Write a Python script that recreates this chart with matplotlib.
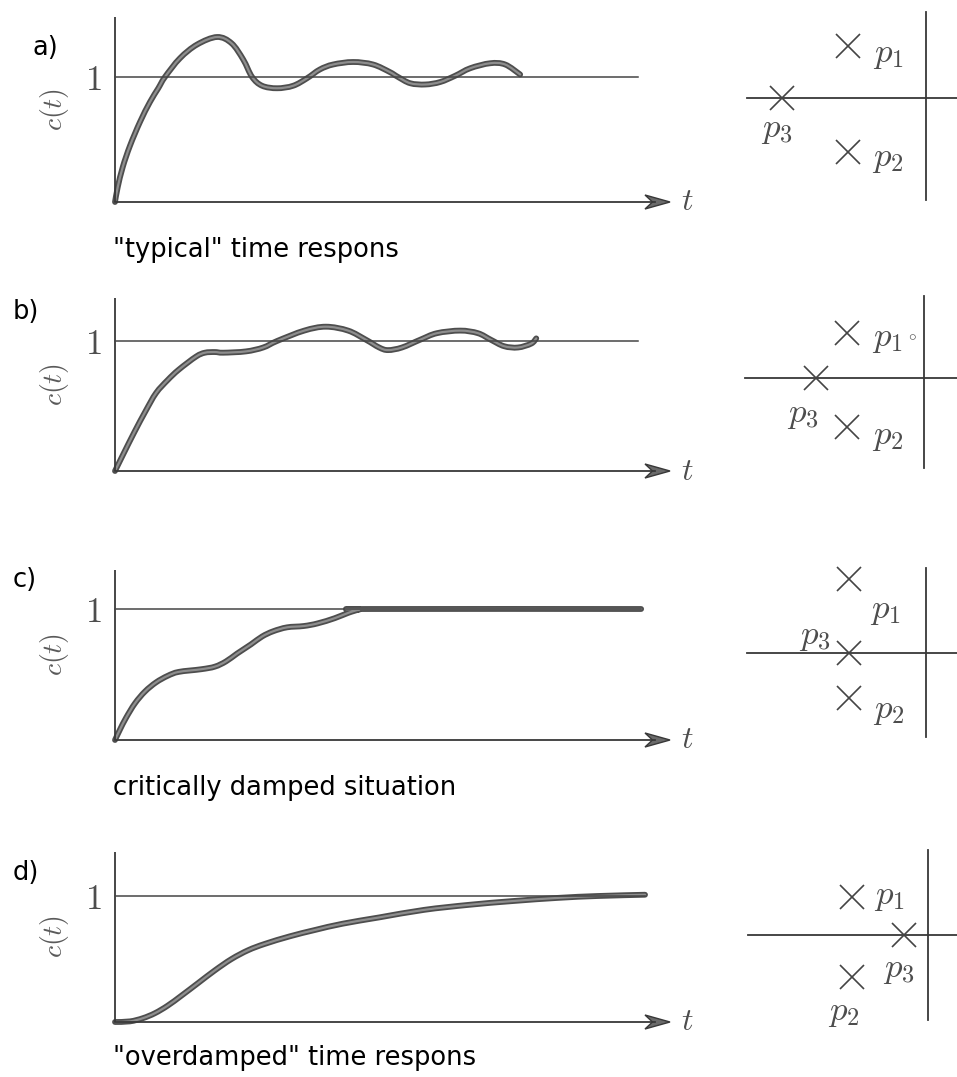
import matplotlib
matplotlib.use("Agg")
import matplotlib.pyplot as plt
import matplotlib.patheffects as pe
from matplotlib.patches import Polygon, PathPatch
from matplotlib.path import Path

plt.rcParams['mathtext.fontset'] = 'cm'
plt.rcParams['font.family'] = ['DejaVu Sans']

# ---------------- data ----------------
# time axis in arbitrary units (0 .. 10 = arrow tip), c(t) normalised (1 = final value)
t_a = [0, 0.05, 0.14, 0.27, 0.45, 0.63, 0.78, 0.90, 1.17, 1.48, 1.84, 2.10, 2.31, 2.47,
       2.65, 2.92, 3.21, 3.46, 3.69, 3.93, 4.29, 4.65, 4.95, 5.10, 5.32, 5.59, 5.86,
       6.13, 6.40, 6.76, 7.03, 7.30]
c_a = [0, 0.12, 0.28, 0.45, 0.64, 0.80, 0.91, 1.00, 1.15, 1.26, 1.32, 1.27, 1.14, 1.00,
       0.93, 0.91, 0.93, 0.99, 1.06, 1.10, 1.12, 1.10, 1.04, 1.00, 0.95, 0.94, 0.96,
       1.01, 1.07, 1.11, 1.10, 1.02]

t_b = [0, 0.15, 0.35, 0.55, 0.74, 0.95, 1.15, 1.46, 1.62, 1.80, 1.95, 2.36, 2.67, 2.92,
       3.41, 3.80, 4.20, 4.52, 4.76, 4.92, 5.17, 5.50, 5.80, 6.22, 6.54, 6.77, 7.01,
       7.26, 7.50, 7.59]
c_b = [0, 0.13, 0.30, 0.46, 0.60, 0.70, 0.78, 0.88, 0.91, 0.915, 0.91, 0.92, 0.95, 1.00,
       1.08, 1.11, 1.08, 1.01, 0.95, 0.93, 0.95, 1.01, 1.06, 1.08, 1.06, 1.01, 0.96,
       0.95, 0.98, 1.02]

t_c = [0, 0.09, 0.20, 0.36, 0.54, 0.74, 0.95, 1.15, 1.55, 1.80, 2.00, 2.20, 2.45, 2.65,
       2.85, 3.10, 3.40, 3.65, 3.96, 4.20, 4.40, 4.60, 9.48]
c_c = [0, 0.08, 0.17, 0.28, 0.37, 0.44, 0.49, 0.52, 0.54, 0.56, 0.60, 0.66, 0.73, 0.79,
       0.83, 0.86, 0.87, 0.89, 0.93, 0.97, 0.995, 1.00, 1.00]

t_d = [0, 0.27, 0.50, 0.72, 0.95, 1.20, 1.50, 1.80, 2.10, 2.40, 2.70, 3.15, 3.60, 4.10,
       4.76, 5.57, 6.38, 7.17, 7.98, 8.70, 9.55]
c_d = [0, 0.005, 0.03, 0.07, 0.13, 0.21, 0.31, 0.41, 0.50, 0.57, 0.62, 0.68, 0.73, 0.78,
       0.83, 0.89, 0.93, 0.96, 0.985, 1.00, 1.01]

level_end = [9.42, 9.42, 9.48, 9.55]          # where the "1" reference line stops
panel_labels = ['a)', 'b)', 'c)', 'd)']
captions = ['"typical" time respons', None, 'critically damped situation',
            '"overdamped" time respons']

# pole locations (real, imag) in s-plane units
pole_re_a = [-7.8, -7.8, -14.4]
pole_im_a = [5.2, -5.4, 0.0]
pole_re_b = [-7.7, -7.7, -10.8]
pole_im_b = [4.5, -4.9, 0.0]
pole_re_c = [-7.7, -7.7, -7.7]
pole_im_c = [7.4, -4.5, 0.0]
pole_re_d = [-7.6, -7.6, -2.4]
pole_im_d = [3.8, -4.2, 0.0]
pole_names = [r'$p_1$', r'$p_2$', r'$p_3$']

# ---------------- layout ----------------
W, H = 957, 1077
fig = plt.figure(figsize=(W / 100, H / 100), dpi=100)
fig.patch.set_facecolor('white')


def px_axes(x0, x1, ytop, ybot):
    ax = fig.add_axes([x0 / W, 1 - ybot / H, (x1 - x0) / W, (ybot - ytop) / H])
    ax.axis('off')
    return ax


def smooth_path(xs, ys):
    """Cubic Bezier path passing through every read point (Catmull-Rom handles)."""
    n = len(xs)
    pts = list(zip(xs, ys))
    verts = [pts[0]]
    codes = [Path.MOVETO]
    for i in range(n - 1):
        p0 = pts[i - 1] if i > 0 else pts[i]
        p1 = pts[i]
        p2 = pts[i + 1]
        p3 = pts[i + 2] if i + 2 < n else pts[i + 1]
        c1 = (p1[0] + (p2[0] - p0[0]) / 6, p1[1] + (p2[1] - p0[1]) / 6)
        c2 = (p2[0] - (p3[0] - p1[0]) / 6, p2[1] - (p3[1] - p1[1]) / 6)
        verts += [c1, c2, p2]
        codes += [Path.CURVE4] * 3
    return Path(verts, codes)


AX = '#383838'
TXT = '#4d4d4d'

# time-response panels: (ytop, y_of_one, ybot) in pixels
rows = [(17, 77, 202), (298, 341, 471), (570, 609, 740), (852, 896, 1022)]
curves = [(t_a, c_a), (t_b, c_b), (t_c, c_c), (t_d, c_d)]
label_pos = [(32, 48), (13, 312), (13, 580), (13, 873)]
caption_y = [250, None, 788, 1058]

X0, XTIP = 115, 670
for i, (ytop, y1, ybot) in enumerate(rows):
    ax = px_axes(X0, XTIP, ytop, ybot)
    ymax = (ybot - ytop) / (ybot - y1)
    ax.set_xlim(0, 10)
    ax.set_ylim(0, ymax)
    pxx = (XTIP - X0) / 10.0
    pxy = (ybot - y1)
    # y axis
    ax.plot([0, 0], [0, ymax], color=AX, lw=1.3, clip_on=False, solid_capstyle='butt')
    # x axis with stealth arrow head
    hl, hw = 25 / pxx, 7 / pxy
    ax.plot([0, 10 - hl * 0.6], [0, 0], color=AX, lw=1.3, clip_on=False)
    head = Polygon([[10, 0], [10 - hl, hw], [10 - hl * 0.7, 0], [10 - hl, -hw]],
                   closed=True, facecolor='#6a6a6a', edgecolor=AX, lw=1.0, clip_on=False)
    ax.add_patch(head)
    # reference line at 1
    ax.plot([0, level_end[i]], [1, 1], color='#454545', lw=1.1, clip_on=False)
    # response curve
    t, c = curves[i]
    patch = PathPatch(smooth_path(t, c), facecolor='none', edgecolor='#8e8e8e', lw=1.6,
                      capstyle='round', joinstyle='round', clip_on=False,
                      path_effects=[pe.Stroke(linewidth=4.2, foreground='#4e4e4e'),
                                    pe.Normal()])
    ax.add_patch(patch)
    # labels
    ax.text(-(X0 - 93) / pxx, 1 + (-3 / pxy), r'$1$', fontsize=25, ha='center',
            va='center', color=TXT)
    ax.text(-(X0 - 55) / pxx, ymax / 2, r'$c(t)$', fontsize=20, rotation=90,
            ha='center', va='center', color='#5a5a5a')
    ax.text(10 + 17 / pxx, 0, r'$t$', fontsize=23, ha='center', va='center', color=TXT)

    lx, ly = label_pos[i]
    fig.text(lx / W, 1 - ly / H, panel_labels[i], fontsize=18.5, ha='left', va='center',
             color='black')
    if captions[i]:
        fig.text(113 / W, 1 - caption_y[i] / H, captions[i], fontsize=18.5, ha='left',
                 va='center', color='black')

# pole-zero panels: origin (ox, oy), vertical line top/bottom, horizontal start
pole_rows = [
    dict(ox=926, oy=98, top=12, bot=200, hx=747, re=pole_re_a, im=pole_im_a,
         off=[(40, -8), (40, -6), (-5, -31)]),
    dict(ox=924, oy=378, top=296, bot=468, hx=745, re=pole_re_b, im=pole_im_b,
         off=[(40, -5), (41, -9), (-13, -36)]),
    dict(ox=926, oy=653, top=568, bot=737, hx=747, re=pole_re_c, im=pole_im_c,
         off=[(36, -31), (40, -12), (-34, 17)]),
    dict(ox=928, oy=935, top=850, bot=1020, hx=748, re=pole_re_d, im=pole_im_d,
         off=[(37, 1), (-8, -35), (-5, -34)]),
]

for k, pr in enumerate(pole_rows):
    ox, oy = pr['ox'], pr['oy']
    ax = px_axes(740, W, pr['top'], pr['bot'])
    ax.set_xlim((740 - ox) / 10, (W - ox) / 10)
    ax.set_ylim((oy - pr['bot']) / 10, (oy - pr['top']) / 10)
    ax.plot([(pr['hx'] - ox) / 10, (W - ox) / 10], [0, 0], color=AX, lw=1.3, clip_on=False)
    ax.plot([0, 0], [(oy - pr['bot']) / 10, (oy - pr['top']) / 10], color=AX, lw=1.3,
            clip_on=False)
    ax.plot(pr['re'], pr['im'], linestyle='none', marker='x', ms=17, mew=1.2,
            color='#444444', clip_on=False)
    for j in range(3):
        ax.annotate(pole_names[j], xy=(pr['re'][j], pr['im'][j]), xytext=pr['off'][j],
                    textcoords='offset pixels', ha='center', va='center', fontsize=25,
                    color=TXT, annotation_clip=False)
    if k == 1:
        ax.annotate(r'$\circ$', xy=(pr['re'][0], pr['im'][0]), xytext=(65, -3),
                    textcoords='offset pixels', ha='center', va='center', fontsize=11,
                    color=TXT, annotation_clip=False)

fig.savefig('out.png', dpi=100, facecolor='white')
